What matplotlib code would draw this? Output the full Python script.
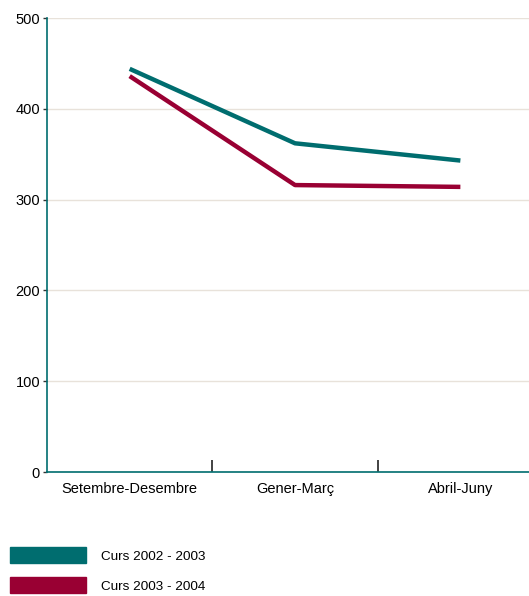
import matplotlib
matplotlib.use("Agg")
import matplotlib.pyplot as plt
from matplotlib.patches import Rectangle

categories = ["Setembre-Desembre", "Gener-Març", "Abril-Juny"]
series_names = ["Curs 2002 - 2003", "Curs 2003 - 2004"]
curs_2002_2003 = [444, 362, 343]
curs_2003_2004 = [436, 316, 314]
colors = ["#006D6F", "#990033"]
yticks = [0, 100, 200, 300, 400, 500]

plt.rcParams['font.family'] = ['Liberation Sans', 'DejaVu Sans']
W, H = 529, 596
fig = plt.figure(figsize=(W/100, H/100), dpi=100)
ax = fig.add_axes([47/W, (H-472)/H, (W-47)/W, (472-18)/H])

x = list(range(len(categories)))
for vals, c in zip([curs_2002_2003, curs_2003_2004], colors):
    ax.plot(x, vals, color=c, lw=3.2, solid_capstyle='butt', zorder=3)

ax.set_ylim(0, 500)
ax.set_xlim(-0.5, 2.415)
ax.set_yticks(yticks)
ax.set_yticklabels([str(v) for v in yticks], fontsize=10.5)
ax.tick_params(axis='y', length=3, width=1, color='#333333', pad=2)
ax.grid(axis='y', color='#E8E2DA', lw=1)
ax.set_axisbelow(True)

ax.set_xticks(x)
ax.set_xticklabels(categories, fontsize=10.5)
ax.tick_params(axis='x', length=0, pad=7)
# category separators
ax.set_xticks([0.5, 1.5], minor=True)
ax.tick_params(axis='x', which='minor', direction='in', length=8.6, width=1.2, color='#222222')

for s in ['top', 'right']:
    ax.spines[s].set_visible(False)
for s in ['left', 'bottom']:
    ax.spines[s].set_color('#006D6F')
    ax.spines[s].set_linewidth(1.2)

# legend
for i, (name, c) in enumerate(zip(series_names, colors)):
    y0 = 547 + i*30
    fig.patches.append(Rectangle((10/W, (H-y0-16)/H), 76/W, 16/H,
                                 transform=fig.transFigure, color=c))
    fig.text(101/W, (H-y0-9.5)/H, name, fontsize=9.7, va='center', ha='left')

fig.savefig("out.png", dpi=100)
